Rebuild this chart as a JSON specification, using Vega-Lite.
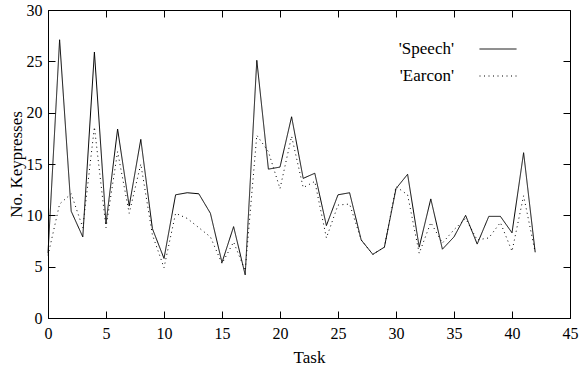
{
  "$schema": "https://vega.github.io/schema/vega-lite/v6.json",
  "width": 522,
  "height": 308,
  "autosize": {"type": "none"},
  "padding": {"left": 48, "top": 10, "right": 9, "bottom": 55},
  "background": "white",
  "config": {
    "view": {"stroke": "black", "strokeWidth": 1},
    "axis": {
      "labelFont": "Liberation Serif Regular",
      "titleFont": "Liberation Serif Regular",
      "labelFontSize": 16,
      "titleFontSize": 17,
      "titleFontWeight": "normal",
      "labelColor": "black",
      "titleColor": "black",
      "tickColor": "black",
      "domainColor": "black",
      "grid": false,
      "tickSize": -7,
      "tickWidth": 1
    },
    "legend": {
      "labelFont": "Liberation Serif Regular",
      "labelFontSize": 17,
      "labelColor": "black"
    }
  },
  "data": {
    "values": [
      {"task": 0, "series": "'Speech'", "keypresses": 6.3},
      {"task": 1, "series": "'Speech'", "keypresses": 27.1},
      {"task": 2, "series": "'Speech'", "keypresses": 10.4},
      {"task": 3, "series": "'Speech'", "keypresses": 7.9},
      {"task": 4, "series": "'Speech'", "keypresses": 25.9},
      {"task": 5, "series": "'Speech'", "keypresses": 9.2},
      {"task": 6, "series": "'Speech'", "keypresses": 18.4},
      {"task": 7, "series": "'Speech'", "keypresses": 10.9},
      {"task": 8, "series": "'Speech'", "keypresses": 17.4},
      {"task": 9, "series": "'Speech'", "keypresses": 8.7},
      {"task": 10, "series": "'Speech'", "keypresses": 5.8},
      {"task": 11, "series": "'Speech'", "keypresses": 12.0},
      {"task": 12, "series": "'Speech'", "keypresses": 12.2},
      {"task": 13, "series": "'Speech'", "keypresses": 12.1},
      {"task": 14, "series": "'Speech'", "keypresses": 10.2},
      {"task": 15, "series": "'Speech'", "keypresses": 5.4},
      {"task": 16, "series": "'Speech'", "keypresses": 8.9},
      {"task": 17, "series": "'Speech'", "keypresses": 4.2},
      {"task": 18, "series": "'Speech'", "keypresses": 25.1},
      {"task": 19, "series": "'Speech'", "keypresses": 14.5},
      {"task": 20, "series": "'Speech'", "keypresses": 14.7},
      {"task": 21, "series": "'Speech'", "keypresses": 19.6},
      {"task": 22, "series": "'Speech'", "keypresses": 13.6},
      {"task": 23, "series": "'Speech'", "keypresses": 14.1},
      {"task": 24, "series": "'Speech'", "keypresses": 9.0},
      {"task": 25, "series": "'Speech'", "keypresses": 12.0},
      {"task": 26, "series": "'Speech'", "keypresses": 12.2},
      {"task": 27, "series": "'Speech'", "keypresses": 7.6},
      {"task": 28, "series": "'Speech'", "keypresses": 6.2},
      {"task": 29, "series": "'Speech'", "keypresses": 6.9},
      {"task": 30, "series": "'Speech'", "keypresses": 12.6},
      {"task": 31, "series": "'Speech'", "keypresses": 14.0},
      {"task": 32, "series": "'Speech'", "keypresses": 6.9},
      {"task": 33, "series": "'Speech'", "keypresses": 11.6},
      {"task": 34, "series": "'Speech'", "keypresses": 6.7},
      {"task": 35, "series": "'Speech'", "keypresses": 7.9},
      {"task": 36, "series": "'Speech'", "keypresses": 10.0},
      {"task": 37, "series": "'Speech'", "keypresses": 7.2},
      {"task": 38, "series": "'Speech'", "keypresses": 9.9},
      {"task": 39, "series": "'Speech'", "keypresses": 9.9},
      {"task": 40, "series": "'Speech'", "keypresses": 8.3},
      {"task": 41, "series": "'Speech'", "keypresses": 16.1},
      {"task": 42, "series": "'Speech'", "keypresses": 6.4},
      {"task": 0, "series": "'Earcon'", "keypresses": 6.1},
      {"task": 1, "series": "'Earcon'", "keypresses": 11.1},
      {"task": 2, "series": "'Earcon'", "keypresses": 12.1},
      {"task": 3, "series": "'Earcon'", "keypresses": 8.8},
      {"task": 4, "series": "'Earcon'", "keypresses": 18.6},
      {"task": 5, "series": "'Earcon'", "keypresses": 8.8},
      {"task": 6, "series": "'Earcon'", "keypresses": 16.2},
      {"task": 7, "series": "'Earcon'", "keypresses": 10.2},
      {"task": 8, "series": "'Earcon'", "keypresses": 15.0},
      {"task": 9, "series": "'Earcon'", "keypresses": 8.1},
      {"task": 10, "series": "'Earcon'", "keypresses": 4.9},
      {"task": 11, "series": "'Earcon'", "keypresses": 10.2},
      {"task": 12, "series": "'Earcon'", "keypresses": 9.7},
      {"task": 13, "series": "'Earcon'", "keypresses": 8.8},
      {"task": 14, "series": "'Earcon'", "keypresses": 7.9},
      {"task": 15, "series": "'Earcon'", "keypresses": 5.3},
      {"task": 16, "series": "'Earcon'", "keypresses": 7.4},
      {"task": 17, "series": "'Earcon'", "keypresses": 4.6},
      {"task": 18, "series": "'Earcon'", "keypresses": 17.8},
      {"task": 19, "series": "'Earcon'", "keypresses": 16.2},
      {"task": 20, "series": "'Earcon'", "keypresses": 12.6},
      {"task": 21, "series": "'Earcon'", "keypresses": 17.7},
      {"task": 22, "series": "'Earcon'", "keypresses": 12.7},
      {"task": 23, "series": "'Earcon'", "keypresses": 13.3},
      {"task": 24, "series": "'Earcon'", "keypresses": 7.8},
      {"task": 25, "series": "'Earcon'", "keypresses": 11.0},
      {"task": 26, "series": "'Earcon'", "keypresses": 11.1},
      {"task": 27, "series": "'Earcon'", "keypresses": 7.6},
      {"task": 28, "series": "'Earcon'", "keypresses": 6.2},
      {"task": 29, "series": "'Earcon'", "keypresses": 6.9},
      {"task": 30, "series": "'Earcon'", "keypresses": 12.8},
      {"task": 31, "series": "'Earcon'", "keypresses": 12.0},
      {"task": 32, "series": "'Earcon'", "keypresses": 6.3},
      {"task": 33, "series": "'Earcon'", "keypresses": 9.3},
      {"task": 34, "series": "'Earcon'", "keypresses": 7.3},
      {"task": 35, "series": "'Earcon'", "keypresses": 8.6},
      {"task": 36, "series": "'Earcon'", "keypresses": 9.7},
      {"task": 37, "series": "'Earcon'", "keypresses": 7.6},
      {"task": 38, "series": "'Earcon'", "keypresses": 7.8},
      {"task": 39, "series": "'Earcon'", "keypresses": 9.3},
      {"task": 40, "series": "'Earcon'", "keypresses": 6.5},
      {"task": 41, "series": "'Earcon'", "keypresses": 11.9},
      {"task": 42, "series": "'Earcon'", "keypresses": 6.4}
    ]
  },
  "layer": [
    {
      "mark": {"type": "line", "color": "black", "strokeWidth": 1},
      "encoding": {
        "x": {
          "field": "task", "type": "quantitative",
          "scale": {"domain": [0, 45], "nice": false, "zero": false},
          "axis": {"title": "Task", "values": [0,5,10,15,20,25,30,35,40,45], "labelPadding": 14, "titlePadding": 8, "orient": "bottom", "labelFlush": false}
        },
        "y": {
          "field": "keypresses", "type": "quantitative",
          "scale": {"domain": [0, 30], "nice": false},
          "axis": {"title": "No. Keypresses", "values": [0,5,10,15,20,25,30], "labelPadding": 13, "titlePadding": 1, "orient": "left"}
        },
        "strokeDash": {
          "field": "series", "type": "nominal",
          "scale": {"domain": ["'Speech'", "'Earcon'"], "range": [[1, 0], [1, 3.5]]},
          "legend": {
            "title": null,
            "orient": "none",
            "legendX": 431,
            "legendY": 20,
            "padding": 0,
            "symbolType": "stroke",
            "symbolSize": 1369,
            "symbolStrokeColor": "black",
            "symbolStrokeWidth": 1,
            "labelAlign": "right",
            "labelOffset": -63,
            "rowPadding": -9
          }
        }
      }
    },
    {
      "mark": {"type": "line", "strokeOpacity": 0},
      "encoding": {
        "x": {
          "field": "task", "type": "quantitative",
          "axis": {"orient": "top", "title": null, "labels": false, "domain": false, "values": [0,5,10,15,20,25,30,35,40,45]}
        },
        "y": {
          "field": "keypresses", "type": "quantitative",
          "axis": {"orient": "right", "title": null, "labels": false, "domain": false, "values": [0,5,10,15,20,25,30]}
        },
        "detail": {"field": "series", "type": "nominal"}
      }
    }
  ],
  "resolve": {"axis": {"x": "independent", "y": "independent"}}
}
